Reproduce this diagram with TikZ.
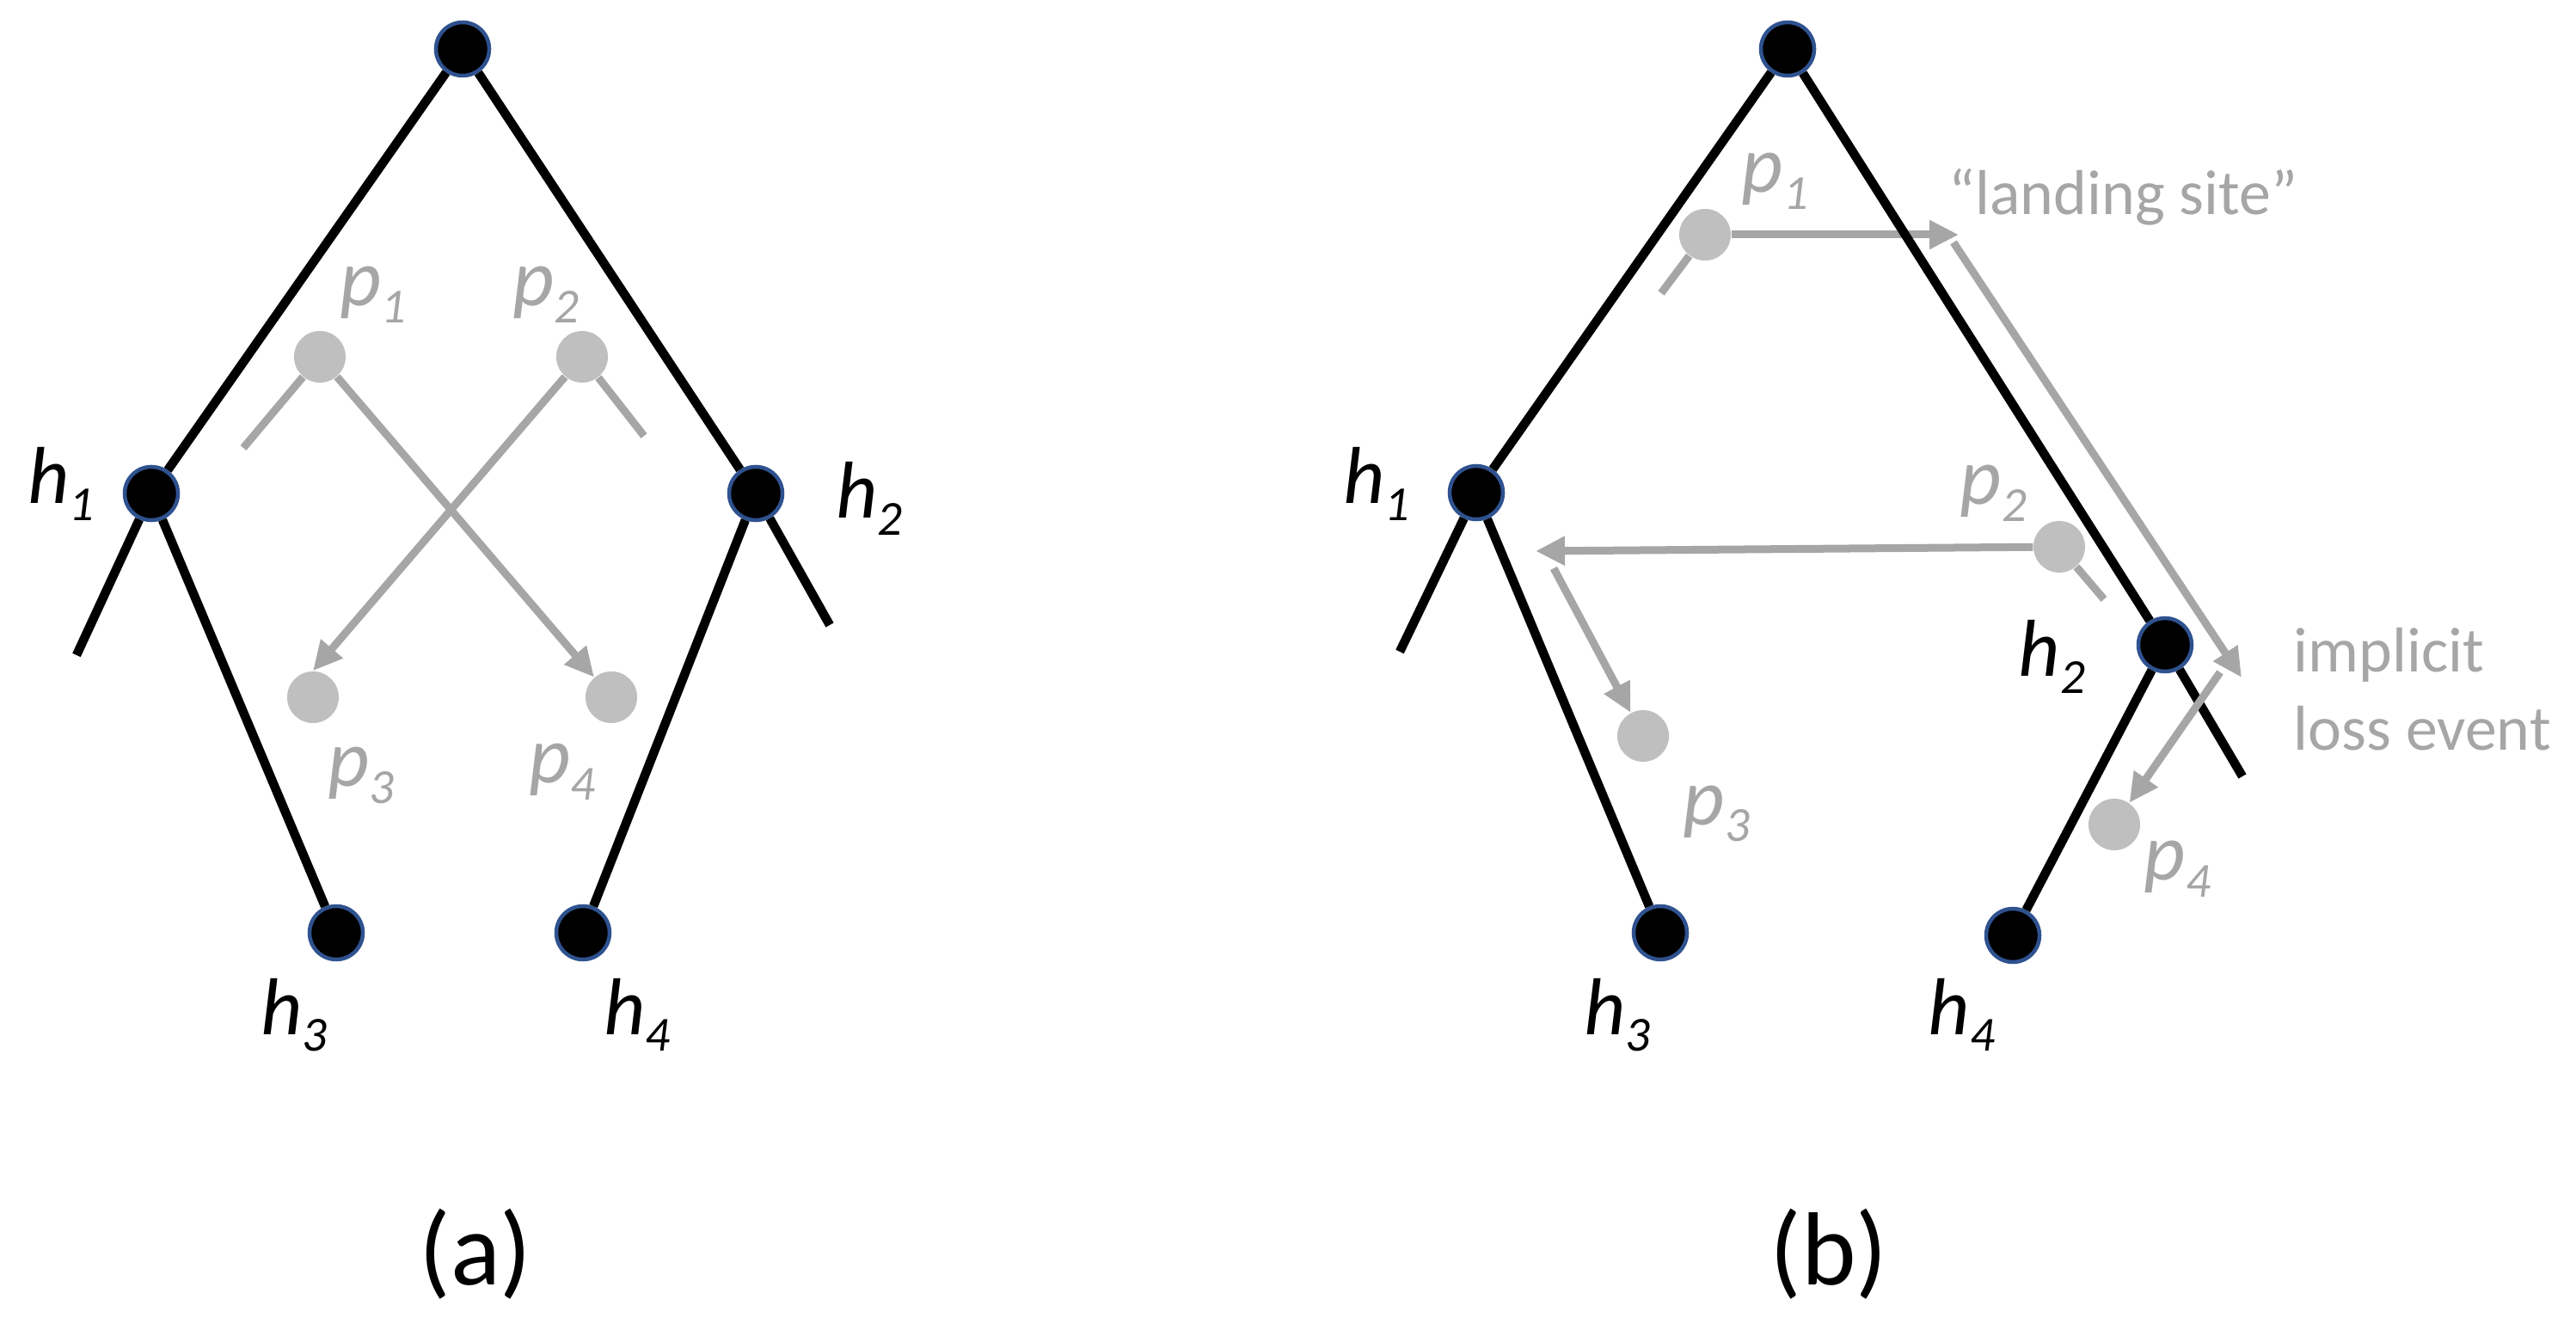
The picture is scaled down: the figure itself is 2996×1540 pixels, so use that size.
\documentclass[tikz,border=0pt]{standalone}
\usepackage{fontspec}
\setmainfont{Carlito}
\usetikzlibrary{arrows.meta}
\definecolor{ndblue}{HTML}{2F528F}
\definecolor{dotgray}{HTML}{BFBFBF}
\definecolor{linegray}{HTML}{A6A6A6}
\newcommand{\lbl}[2]{\textit{#1}\raisebox{-0.19cm}{\fontsize{16.2pt}{16.2pt}\selectfont\textit{#2}}}
\begin{document}
\begin{tikzpicture}[x=0.01cm,y=-0.01cm,
  hnode/.style={circle,fill=black,draw=ndblue,line width=0.045cm,minimum size=0.62cm,inner sep=0pt},
  pdot/.style={circle,fill=dotgray,minimum size=0.6cm,inner sep=0pt},
  treeline/.style={line width=0.105cm,black},
  gline/.style={line width=0.09cm,linegray},
  garrow/.style={gline,-{Triangle[length=0.34cm,width=0.32cm]}},
  lab/.style={inner sep=0pt,anchor=base west,font=\fontsize{26.7pt}{32pt}\selectfont},
  glab/.style={lab,text=linegray},
  gtext/.style={inner sep=0pt,anchor=base west,text=linegray,font=\fontsize{21pt}{26pt}\selectfont},
  subcap/.style={inner sep=0pt,anchor=base,font=\fontsize{34.4pt}{40pt}\selectfont}
]
\useasboundingbox (0,0) rectangle (2996,1540);

% ---------------- panel (a) ----------------
\node[hnode] (ar) at (538,57) {};
\node[hnode] (ah1) at (176,574) {};
\node[hnode] (ah2) at (879,574) {};
\node[hnode] (ah3) at (391,1085) {};
\node[hnode] (ah4) at (678,1085) {};
\coordinate (ah1s) at (89,762);
\coordinate (ah2s) at (965,727);
\node[pdot] (ap1) at (372,415) {};
\node[pdot] (ap2) at (677,415) {};
\node[pdot] (ap3) at (364,811) {};
\node[pdot] (ap4) at (711,811) {};
\coordinate (ap1s) at (283,521);
\coordinate (ap2s) at (749,507);

\draw[gline] (ap1) -- (ap1s);
\draw[gline] (ap2) -- (ap2s);
\draw[garrow] (ap1) -- (ap4);
\draw[garrow] (ap2) -- (ap3.north);

\draw[treeline] (ar) -- (ah1);
\draw[treeline] (ar) -- (ah2);
\draw[treeline] (ah1) -- (ah1s);
\draw[treeline] (ah1) -- (ah3);
\draw[treeline] (ah2) -- (ah4);
\draw[treeline] (ah2) -- (ah2s);

\node[lab] (lah1) at (32,586) {\lbl{h}{1}};
\node[lab] (lah2) at (972,603) {\lbl{h}{2}};
\node[lab] (lah3) at (303,1203) {\lbl{h}{3}};
\node[lab] (lah4) at (702,1203) {\lbl{h}{4}};
\node[glab] (lap1) at (395,356) {\lbl{p}{1}};
\node[glab] (lap2) at (596,356) {\lbl{p}{2}};
\node[glab] (lap3) at (381,915) {\lbl{p}{3}};
\node[glab] (lap4) at (615,911) {\lbl{p}{4}};
\node[subcap] (capa) at (553,1494) {(a)};

% ---------------- panel (b) ----------------
\node[hnode] (br) at (2079,57) {};
\node[hnode] (bh1) at (1717,573) {};
\node[hnode] (bh2) at (2518,750) {};
\node[hnode] (bh3) at (1931,1085) {};
\node[hnode] (bh4) at (2341,1088) {};
\coordinate (bh1s) at (1628,758);
\coordinate (bh2s) at (2608,903);
\node[pdot] (bp1) at (1983,273) {};
\node[pdot] (bp2) at (2395,636) {};
\node[pdot] (bp3) at (1911,856) {};
\node[pdot] (bp4) at (2459,959) {};
\coordinate (bp1s) at (1932,341);
\coordinate (bp2s) at (2447,697);
\coordinate (bp1t) at (2278,273);
\coordinate (bls) at (2272,282);
\coordinate (blt) at (2607,788);
\coordinate (bp2t) at (1786,641);
\coordinate (bp3s) at (1807,661);
\coordinate (bp4s) at (2582,782);

\draw[gline] (bp1) -- (bp1s);
\draw[gline] (bp2) -- (bp2s);
\draw[garrow] (bp1) -- (bp1t);
\draw[garrow] (bls) -- (blt);
\draw[garrow] (bp2) -- (bp2t);
\draw[garrow] (bp3s) -- (bp3);

\draw[treeline] (br) -- (bh1);
\draw[treeline] (br) -- (bh2);
\draw[treeline] (bh1) -- (bh1s);
\draw[treeline] (bh1) -- (bh3);
\draw[treeline] (bh2) -- (bh4);
\draw[treeline] (bh2) -- (bh2s);

\draw[garrow] (bp4s) -- (bp4);

\node[lab] (lbh1) at (1562,586) {\lbl{h}{1}};
\node[lab] (lbh2) at (2347,787) {\lbl{h}{2}};
\node[lab] (lbh3) at (1842,1203) {\lbl{h}{3}};
\node[lab] (lbh4) at (2242,1203) {\lbl{h}{4}};
\node[glab] (lbp1) at (2025,224) {\lbl{p}{1}};
\node[glab] (lbp2) at (2279,587) {\lbl{p}{2}};
\node[glab] (lbp3) at (1957,959) {\lbl{p}{3}};
\node[glab] (lbp4) at (2493,1024) {\lbl{p}{4}};
\node[gtext] (land) at (2266,250) {“landing site”};
\node[gtext] (impl) at (2667,782) {implicit};
\node[gtext] (loss) at (2667,873) {loss event};
\node[subcap] (capb) at (2127,1494) {(b)};
\end{tikzpicture}
\end{document}
